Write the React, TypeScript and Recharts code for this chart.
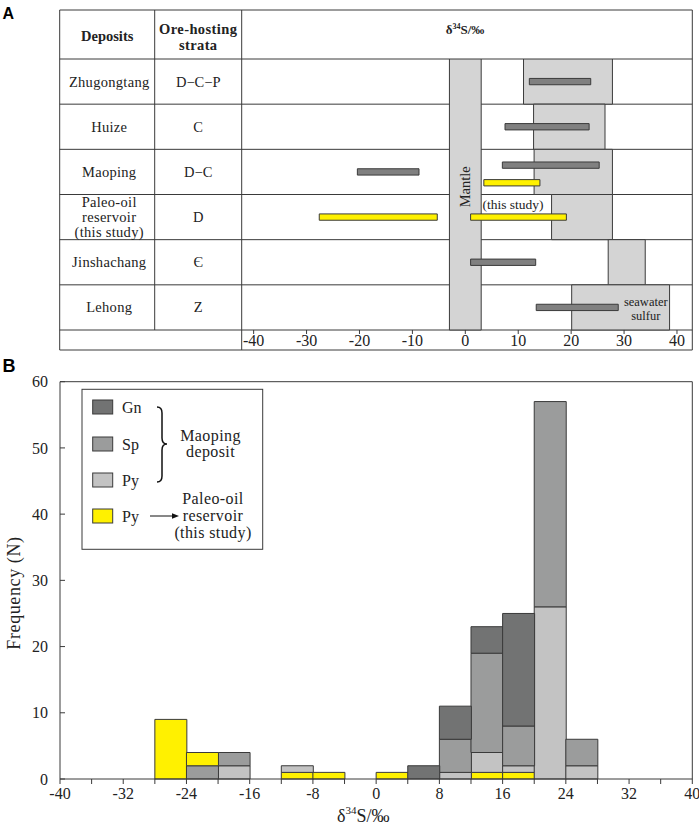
import React from 'react';
import {
  ComposedChart,
  BarChart,
  Bar,
  XAxis,
  YAxis,
  ReferenceArea,
  ReferenceDot,
  ReferenceLine,
} from 'recharts';

const SERIF = '"Liberation Serif", "Times New Roman", serif';
const SANS = '"Liberation Sans", Arial, sans-serif';

// ---------- panel A data ----------
const deposits = ['Zhugongtang', 'Huize', 'Maoping', 'Paleo-oil reservoir (this study)', 'Jinshachang', 'Lehong'];
const strata = ['D\u2212C\u2212P', 'C', 'D\u2212C', 'D', '\u0404', 'Z'];
const fieldLow = [11, 12.9, 13, 16.3, 27, 20.1];
const fieldHigh = [27.8, 26.4, 27.8, 27.8, 34, 38.6];
const mantleRange = [-3, 3];

// measured ranges (row index, low, high)
const sulfideRow = [0, 1, 2, 2, 4, 5];
const sulfideLow = [12.1, 7.5, -20.4, 7.0, 1.0, 13.4];
const sulfideHigh = [23.7, 23.4, -8.75, 25.3, 13.3, 28.9];
const oilRow = [2, 3, 3];
const oilLow = [3.5, -27.6, 1.0];
const oilHigh = [14.1, -5.3, 19.1];
const axisTicksA = [-40, -30, -20, -10, 0, 10, 20, 30, 40];

// ---------- panel B data ----------
const binStarts = [-40, -36, -32, -28, -24, -20, -16, -12, -8, -4, 0, 4, 8, 12, 16, 20, 24, 28, 32, 36];
const gn = [0, 0, 0, 0, 0, 0, 0, 0, 0, 0, 0, 2, 5, 4, 17, 0, 0, 0, 0, 0];
const sp = [0, 0, 0, 0, 2, 2, 0, 0, 0, 0, 0, 0, 5, 15, 6, 31, 4, 0, 0, 0];
const py = [0, 0, 0, 0, 0, 2, 0, 1, 0, 0, 0, 0, 1, 3, 1, 26, 2, 0, 0, 0];
const pyOil = [0, 0, 0, 9, 0, 0, 0, 1, 1, 0, 1, 0, 0, 1, 1, 0, 0, 0, 0, 0];
const pyOilAbove = [0, 0, 0, 0, 2, 0, 0, 0, 0, 0, 0, 0, 0, 0, 0, 0, 0, 0, 0, 0];
const binWidth = 4;
const xTicksB = [-40, -36, -32, -28, -24, -20, -16, -12, -8, -4, 0, 4, 8, 12, 16, 20, 24, 28, 32, 36, 40];
const yTicksB = [0, 10, 20, 30, 40, 50, 60];

// colours
const C_GN = '#727373';
const C_SP = '#9b9c9c';
const C_PY = '#c3c3c3';
const C_OIL = '#fff100';
const C_FIELD = '#d4d4d4';
const C_BAR = '#808080';
const C_LINE = '#3a3a3a';
const C_TEXT = '#222';

// layout of the table in panel A
const T_LEFT = 59.7;
const T_COL1 = 154.7;
const T_COL2 = 241.7;
const T_RIGHT = 692.3;
const T_TOP = 10;
const T_HEAD = 59;
const T_AXIS = 330;
const T_BOTTOM = 350;
const ROW_H = (T_AXIS - T_HEAD) / deposits.length;
const BAR_H = 0.14; // in row units
// vertical position of each range inside its row (row units)
const sulfideLane = [0.5, 0.5, 0.5, 0.35, 0.5, 0.5];
const oilLane = [0.74, 0.5, 0.5];

const rangeData = deposits.map((d, i) => ({ deposit: d, row: i, low: fieldLow[i], high: fieldHigh[i] }));

const histData = binStarts.map((b, i) => ({
  bin: String(b),
  mid: b + binWidth / 2,
  pyOil: pyOil[i] || null,
  py: py[i] || null,
  sp: sp[i] || null,
  gn: gn[i] || null,
  pyOilAbove: pyOilAbove[i] || null,
}));

const TableFrame = () => {
  const rowLines = deposits.map((_, i) => T_HEAD + i * ROW_H).concat([T_AXIS]);
  return (
    <svg width={699} height={360} style={{ position: 'absolute', left: 0, top: 0 }}>
      <g stroke={C_LINE} strokeWidth={1}>
        <line x1={T_LEFT} x2={T_RIGHT} y1={T_TOP} y2={T_TOP} />
        <line x1={T_LEFT} x2={T_RIGHT} y1={T_BOTTOM} y2={T_BOTTOM} />
        {rowLines.map((y) => (
          <line key={y} x1={T_LEFT} x2={T_RIGHT} y1={y} y2={y} />
        ))}
        <line x1={T_LEFT} x2={T_LEFT} y1={T_TOP} y2={T_BOTTOM} />
        <line x1={T_COL1} x2={T_COL1} y1={T_TOP} y2={T_AXIS} />
        <line x1={T_COL2} x2={T_COL2} y1={T_TOP} y2={T_BOTTOM} />
        <line x1={T_RIGHT} x2={T_RIGHT} y1={T_TOP} y2={T_BOTTOM} />
      </g>
    </svg>
  );
};

const TableText = () => {
  const c1 = (T_LEFT + T_COL1) / 2 + 2;
  const c2 = (T_COL1 + T_COL2) / 2;
  return (
    <svg width={699} height={360} style={{ position: 'absolute', left: 0, top: 0, pointerEvents: 'none' }} fontFamily={SERIF} fill={C_TEXT}>
      <text x={2.5} y={18.5} fontFamily={SANS} fontWeight="bold" fontSize={16} fill="#000">A</text>
      <text x={107.2} y={36} textAnchor="middle" dominantBaseline="central" fontWeight="bold" fontSize={14.5}>Deposits</text>
      <text x={c2} y={29.3} textAnchor="middle" dominantBaseline="central" fontWeight="bold" fontSize={14.5} letterSpacing={0.4}>Ore-hosting</text>
      <text x={c2} y={45} textAnchor="middle" dominantBaseline="central" fontWeight="bold" fontSize={14.5} letterSpacing={0.4}>strata</text>
      <text x={465} y={33.5} textAnchor="middle" fontWeight="bold" fontSize={13}>
        δ<tspan fontSize={8} dy={-5}>34</tspan><tspan dy={5}>S/‰</tspan>
      </text>
      {deposits.map((d, i) => {
        const cy = T_HEAD + (i + 0.5) * ROW_H;
        const lines = d === 'Paleo-oil reservoir (this study)' ? ['Paleo-oil', 'reservoir', '(this study)'] : [d];
        return (
          <g key={d}>
            {lines.map((ln, k) => (
              <text key={ln} x={c1} y={cy + (k - (lines.length - 1) / 2) * 15} textAnchor="middle" dominantBaseline="central" fontSize={14.5} letterSpacing={0.3}>
                {ln}
              </text>
            ))}
            <text x={c2} y={cy} textAnchor="middle" dominantBaseline="central" fontSize={14.5}>{strata[i]}</text>
          </g>
        );
      })}
    </svg>
  );
};

const smallLabel = (value: string, size = 13.5) => ({
  value,
  position: 'center' as const,
  fill: C_TEXT,
  fontSize: size,
  fontFamily: SERIF,
});

const RangeChart = () => (
  <div style={{ position: 'absolute', left: T_COL2, top: T_HEAD }}>
    <ComposedChart
      width={T_RIGHT - T_COL2}
      height={T_BOTTOM - T_HEAD}
      data={rangeData}
      margin={{ top: 0, right: 0, bottom: 0, left: 0 }}
    >
      <XAxis
        type="number"
        dataKey="low"
        domain={[-42.2, 42.95]}
        ticks={axisTicksA}
        allowDataOverflow
        height={T_BOTTOM - T_AXIS}
        axisLine={false}
        tickSize={4}
        tickMargin={1}
        tickLine={{ stroke: C_LINE }}
        tick={{ fontSize: 16, fontFamily: SERIF, fill: C_TEXT }}
        interval={0}
      />
      <YAxis type="number" dataKey="row" domain={[0, deposits.length]} reversed hide allowDataOverflow />
      {deposits.map((d, i) => (
        <ReferenceArea key={'f' + d} x1={fieldLow[i]} x2={fieldHigh[i]} y1={i} y2={i + 1} fill={C_FIELD} fillOpacity={1} stroke={C_LINE} strokeWidth={1} />
      ))}
      <ReferenceArea x1={mantleRange[0]} x2={mantleRange[1]} y1={0} y2={deposits.length} fill={C_FIELD} fillOpacity={1} stroke={C_LINE} strokeWidth={1} />
      {sulfideRow.map((r, i) => (
        <ReferenceArea
          key={'s' + i}
          x1={sulfideLow[i]}
          x2={sulfideHigh[i]}
          y1={r + sulfideLane[i] - BAR_H / 2}
          y2={r + sulfideLane[i] + BAR_H / 2}
          fill={C_BAR}
          fillOpacity={1}
          stroke={C_LINE}
          strokeWidth={1}
        />
      ))}
      {oilRow.map((r, i) => (
        <ReferenceArea
          key={'o' + i}
          x1={oilLow[i]}
          x2={oilHigh[i]}
          y1={r + oilLane[i] - BAR_H / 2}
          y2={r + oilLane[i] + BAR_H / 2}
          fill={C_OIL}
          fillOpacity={1}
          stroke={C_LINE}
          strokeWidth={1}
        />
      ))}
      <ReferenceDot x={0} y={2.83} r={0.5} fill="none" stroke="none" label={{ ...smallLabel('Mantle', 14.5), angle: -90 }} />
      <ReferenceDot x={9} y={3.22} r={0.5} fill="none" stroke="none" label={smallLabel('(this study)')} />
      <ReferenceDot x={34.1} y={5.36} r={0.5} fill="none" stroke="none" label={smallLabel('seawater', 12.5)} />
      <ReferenceDot x={34.1} y={5.69} r={0.5} fill="none" stroke="none" label={smallLabel('sulfur', 12.5)} />
    </ComposedChart>
  </div>
);

const HistLegend = () => {
  const items = [
    { label: 'Gn', fill: C_GN, y: 407 },
    { label: 'Sp', fill: C_SP, y: 444 },
    { label: 'Py', fill: C_PY, y: 480 },
    { label: 'Py', fill: C_OIL, y: 516 },
  ];
  return (
    <svg width={699} height={825} style={{ position: 'absolute', left: 0, top: 0, pointerEvents: 'none' }} fontFamily={SERIF} fill={C_TEXT}>
      <text x={2.5} y={371.5} fontFamily={SANS} fontWeight="bold" fontSize={18} fill="#000">B</text>
      <rect x={82} y={389.3} width={180.7} height={160} fill="#fff" stroke={C_LINE} strokeWidth={1} />
      {items.map((it, i) => (
        <g key={i}>
          <rect x={92.7} y={it.y - 7} width={20} height={14} fill={it.fill} stroke={C_LINE} strokeWidth={1} />
          <text x={122} y={it.y} dominantBaseline="central" fontSize={16}>{it.label}</text>
        </g>
      ))}
      <path
        d="M157,407 Q162,407 162,413 L162,438 Q162,444 167,444 Q162,444 162,450 L162,476 Q162,482 157,482"
        fill="none"
        stroke="#111"
        strokeWidth={1.5}
      />
      <text x={210.5} y={435} textAnchor="middle" dominantBaseline="central" fontSize={16} letterSpacing={0.4}>Maoping</text>
      <text x={210.5} y={451} textAnchor="middle" dominantBaseline="central" fontSize={16} letterSpacing={0.4}>deposit</text>
      <line x1={150} x2={174} y1={516} y2={516} stroke="#111" strokeWidth={1} />
      <polygon points="179,516 172,513.3 172,518.7" fill="#111" />
      <text x={213} y={498.5} textAnchor="middle" dominantBaseline="central" fontSize={16} letterSpacing={0.4}>Paleo-oil</text>
      <text x={213} y={515.7} textAnchor="middle" dominantBaseline="central" fontSize={16} letterSpacing={0.4}>reservoir</text>
      <text x={213} y={532} textAnchor="middle" dominantBaseline="central" fontSize={16} letterSpacing={0.4}>(this study)</text>
      <text x={14} y={593} textAnchor="middle" dominantBaseline="central" fontSize={18} letterSpacing={0.6} transform="rotate(-90 14 593)">
        Frequency (N)
      </text>
      <text x={337} y={822} fontSize={18}>
        δ<tspan fontSize={11} dy={-8}>34</tspan><tspan dy={8}>S/‰</tspan>
      </text>
    </svg>
  );
};

const Histogram = () => (
  <div style={{ position: 'absolute', left: 0, top: 360 }}>
    <BarChart
      width={699}
      height={465}
      data={histData}
      margin={{ top: 21.7, right: 6.7, bottom: 0, left: 0 }}
      barCategoryGap={0}
      barGap={0}
    >
      <XAxis
        xAxisId="num"
        type="number"
        dataKey="mid"
        domain={[-40, 40]}
        ticks={xTicksB}
        allowDataOverflow
        interval={0}
        height={46}
        tickSize={5}
        tickMargin={4}
        stroke={C_LINE}
        tickFormatter={(v: number) => (v % 8 === 0 ? String(v) : '')}
        tick={{ fontSize: 16, fontFamily: SERIF, fill: C_TEXT }}
      />
      <XAxis xAxisId="bin" dataKey="bin" hide height={0} />
      <YAxis
        domain={[0, 60]}
        ticks={yTicksB}
        interval={0}
        width={60}
        tickSize={-5}
        tickMargin={17}
        stroke={C_LINE}
        tick={{ fontSize: 16, fontFamily: SERIF, fill: C_TEXT }}
      />
      <ReferenceLine xAxisId="num" y={60} stroke={C_LINE} />
      <ReferenceLine xAxisId="num" x={40} stroke={C_LINE} />
      <Bar xAxisId="bin" dataKey="pyOil" stackId="s" fill={C_OIL} stroke={C_LINE} strokeWidth={1} isAnimationActive={false} />
      <Bar xAxisId="bin" dataKey="py" stackId="s" fill={C_PY} stroke={C_LINE} strokeWidth={1} isAnimationActive={false} />
      <Bar xAxisId="bin" dataKey="sp" stackId="s" fill={C_SP} stroke={C_LINE} strokeWidth={1} isAnimationActive={false} />
      <Bar xAxisId="bin" dataKey="gn" stackId="s" fill={C_GN} stroke={C_LINE} strokeWidth={1} isAnimationActive={false} />
      <Bar xAxisId="bin" dataKey="pyOilAbove" stackId="s" fill={C_OIL} stroke={C_LINE} strokeWidth={1} isAnimationActive={false} />
    </BarChart>
  </div>
);

export default function App() {
  return (
    <div style={{ position: 'absolute', left: 0, top: 0, width: 699, height: 825, background: '#fff', fontFamily: SERIF, overflow: 'hidden' }}>
      <TableFrame />
      <RangeChart />
      <TableText />
      <Histogram />
      <HistLegend />
    </div>
  );
}
